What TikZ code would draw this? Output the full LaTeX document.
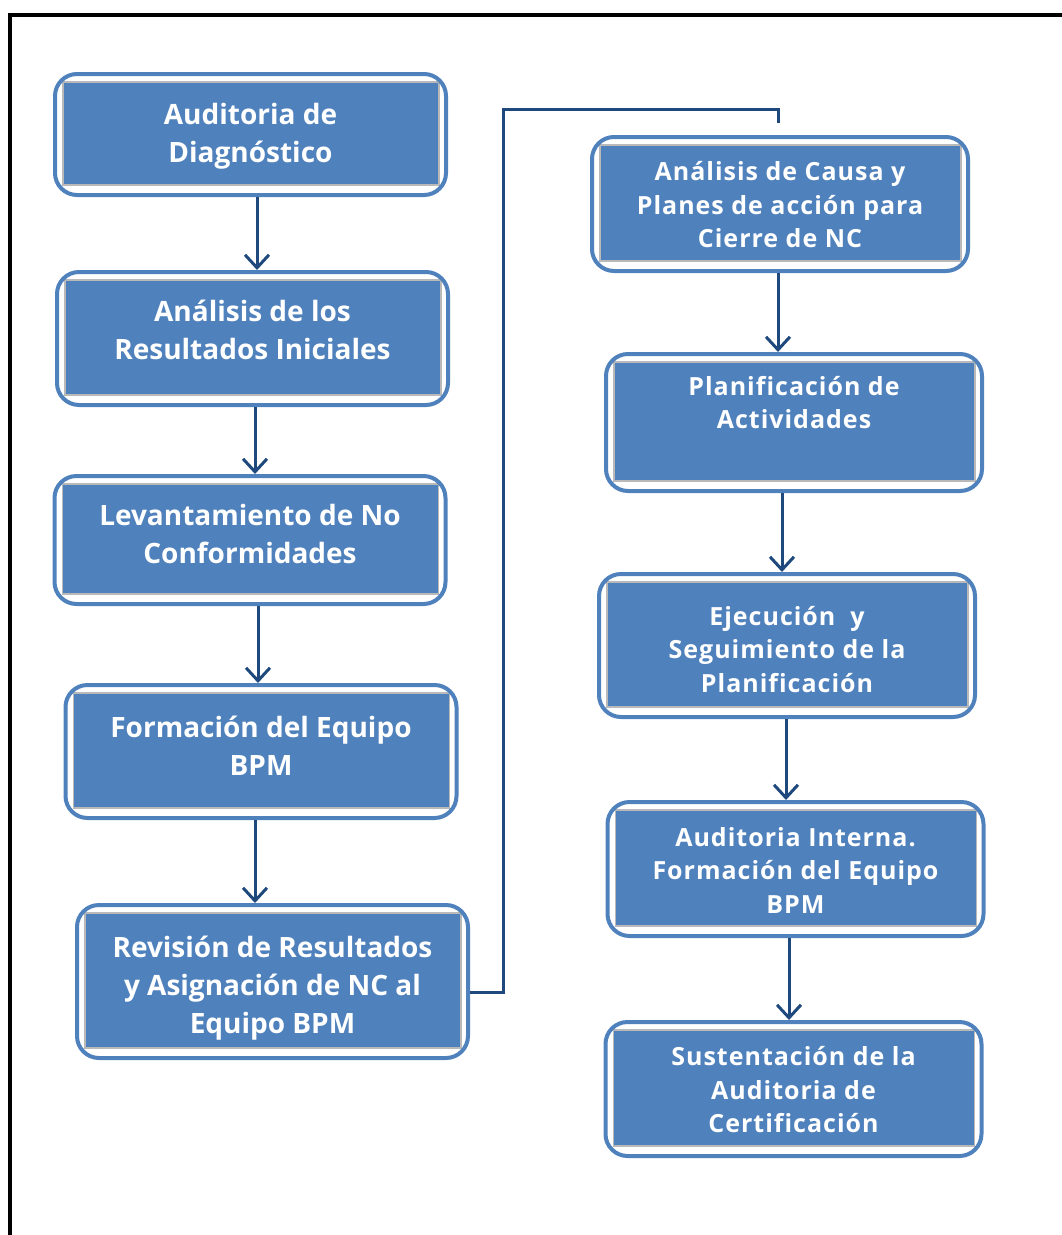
\documentclass[tikz,border=0pt]{standalone}
\usepackage{fontspec}
\usetikzlibrary{arrows.meta}
\newfontfamily\leftfont[Ligatures=NoCommon]{Open Sans}
\newfontfamily\rightfont[Ligatures=NoCommon,LetterSpace=4]{Open Sans}
\definecolor{boxblue}{RGB}{79,129,189}
\definecolor{linkblue}{RGB}{31,73,125}
\begin{document}
\begin{tikzpicture}[x=1pt,y=-1pt,
  stepbox/.style={draw=boxblue, line width=4pt, fill=white, rounded corners=22pt,
    inner sep=0pt,
    path picture={\draw[gray!55, line width=1.5pt, fill=boxblue, sharp corners]
      ([shift={(8pt,-8pt)}]path picture bounding box.north west) rectangle
      ([shift={(-7pt,10pt)}]path picture bounding box.south east);}},
  lbox/.style={stepbox, minimum width=391pt},
  rbox/.style={stepbox, minimum width=376pt},
  ltext/.style={text=white, align=center, inner sep=0pt,
    font=\leftfont\bfseries\fontsize{28}{38}\selectfont},
  rtext/.style={text=white, align=center, inner sep=0pt,
    font=\rightfont\bfseries\fontsize{25}{33.5}\selectfont},
  flow/.style={draw=linkblue, line width=3pt,
    -{Straight Barb[length=13pt,width=24pt,line width=3pt]}},
  link/.style={draw=linkblue, line width=3pt}
]
\useasboundingbox (0,0) rectangle (1062,1235);

% outer frame (open on the right and bottom)
\draw[line width=4.5pt] (10,1235) -- (10,15) -- (1062,15);

% left column
\node[lbox, minimum height=121pt,
  label={[ltext, yshift=-1.5pt]center:{Auditoria de\\Diagnóstico}}] (b1) at (250.5,134.5) {};
\node[lbox, minimum height=133pt,
  label={[ltext, yshift=8.5pt]center:{Análisis de los\\Resultados Iniciales}}] (b2) at (252.5,338.5) {};
\node[lbox, minimum height=128pt,
  label={[ltext, yshift=6pt]center:{Levantamiento de No\\Conformidades}}] (b3) at (250,540) {};
\node[lbox, minimum height=133pt,
  label={[ltext, yshift=5.5pt]center:{Formación del Equipo\\BPM}}] (b4) at (261,751.5) {};
\node[lbox, minimum height=153pt,
  label={[ltext, yshift=-7pt]center:{Revisión de Resultados\\y Asignación de NC al\\Equipo BPM}}] (b5) at (272.5,981.5) {};

% right column
\node[rbox, minimum height=134pt,
  label={[rtext, yshift=-1pt]center:{Análisis de Causa y\\Planes de acción para\\Cierre de NC}}] (b6) at (780,204) {};
\node[rbox, minimum height=137pt,
  label={[rtext, yshift=20pt]center:{Planificación de\\Actividades}}] (b7) at (794,422.5) {};
\node[rbox, minimum height=143pt,
  label={[rtext, yshift=-4pt]center:{Ejecución~ y\\Seguimiento de la\\Planificación}}] (b8) at (787,645.5) {};
\node[rbox, minimum height=134pt,
  label={[rtext, yshift=-1pt]center:{Auditoria Interna.\\Formación del Equipo\\BPM}}] (b9) at (795.5,869) {};
\node[rbox, minimum height=134pt,
  label={[rtext, yshift=-1pt]center:{Sustentación de la\\Auditoria de\\Certificación}}] (b10) at (793.5,1089) {};

% arrow columns
\coordinate (x12) at (257,0);
\coordinate (x23) at (255,0);
\coordinate (x34) at (258,0);
\coordinate (x45) at (255,0);
\coordinate (x67) at (778,0);
\coordinate (x78) at (782,0);
\coordinate (x89) at (786,0);
\coordinate (x910) at (789,0);

\draw[flow] (b1.south -| x12) -- (b2.north -| x12);
\draw[flow] (b2.south -| x23) -- (b3.north -| x23);
\draw[flow] (b3.south -| x34) -- (b4.north -| x34);
\draw[flow] (b4.south -| x45) -- (b5.north -| x45);

\draw[flow] (b6.south -| x67) -- (b7.north -| x67);
\draw[flow] (b7.south -| x78) -- (b8.north -| x78);
\draw[flow] (b8.south -| x89) -- (b9.north -| x89);
\draw[flow] (b9.south -| x910) -- (b10.north -| x910);

% link from the left column over to the right column
\coordinate (bend) at (503,109);
\coordinate (b6in) at (778,123);
\draw[link] ([yshift=-10.5pt]b5.east) -| (bend) -| (b6in);
\end{tikzpicture}
\end{document}
